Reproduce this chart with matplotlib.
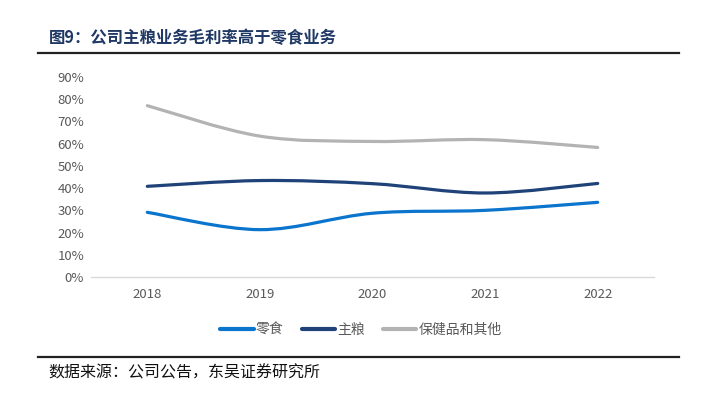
import matplotlib
matplotlib.use('Agg')
import matplotlib.pyplot as plt
from matplotlib.path import Path
from matplotlib.patches import PathPatch
from matplotlib.lines import Line2D
from matplotlib.ticker import FuncFormatter

plt.rcParams['font.family'] = ['Noto Sans CJK SC', 'DejaVu Sans']

# Donnees
years = ['2018', '2019', '2020', '2021', '2022']
snacks = [29.1, 21.3, 28.7, 30.0, 33.6]
staple = [40.8, 43.4, 42.0, 37.8, 42.1]
health = [77.1, 63.4, 61.0, 61.8, 58.3]
series_names = ['零食', '主粮', '保健品和其他']
colors = ['#0b74cc', '#1f4279', '#b3b3b3']


# Courbe lissee facon Excel (bezier) a partir des points
def smooth_path(xs, ys):
    pts = list(zip(xs, ys))
    n = len(pts)
    verts = [pts[0]]
    codes = [Path.MOVETO]
    for i in range(n - 1):
        p0 = pts[i - 1] if i > 0 else pts[i]
        p1 = pts[i]
        p2 = pts[i + 1]
        p3 = pts[i + 2] if i + 2 < n else pts[i + 1]
        c1 = (p1[0] + (p2[0] - p0[0]) / 6, p1[1] + (p2[1] - p0[1]) / 6)
        c2 = (p2[0] - (p3[0] - p1[0]) / 6, p2[1] - (p3[1] - p1[1]) / 6)
        verts += [c1, c2, p2]
        codes += [Path.CURVE4] * 3
    return Path(verts, codes)


fig = plt.figure(figsize=(7.03, 3.99), dpi=100)
ax = fig.add_axes([91 / 703, 1 - 277 / 399, 563 / 703, 200 / 399])

xs = list(range(len(years)))
for data, color in zip([snacks, staple, health], colors):
    patch = PathPatch(smooth_path(xs, data), facecolor='none', edgecolor=color,
                      linewidth=2.3, capstyle='round')
    ax.add_patch(patch)

ax.set_xlim(-0.5, len(years) - 0.5)
ax.set_ylim(0, 90)
ax.set_yticks(range(0, 91, 10))
ax.yaxis.set_major_formatter(FuncFormatter(lambda v, p: '%d%%' % v))
ax.set_xticks(xs)
ax.set_xticklabels(years)
ax.tick_params(axis='both', length=0, colors='#595959', labelsize=9.5)
ax.tick_params(axis='x', pad=8)
ax.tick_params(axis='y', pad=5)
for s in ['top', 'right', 'left']:
    ax.spines[s].set_visible(False)
ax.spines['bottom'].set_color('#d9d9d9')
ax.spines['bottom'].set_linewidth(1)

# Legende
handles = [Line2D([0], [0], color=c, linewidth=3, solid_capstyle='round') for c in colors]
fig.legend(handles, series_names, loc='center', bbox_to_anchor=(361 / 703, 1 - 330 / 399),
           ncol=3, frameon=False, fontsize=10, handlelength=2.4, handletextpad=0.15,
           columnspacing=1.3, labelcolor='#595959')

# Titre et source
fig.text(49 / 703, 1 - 38 / 399, '图9：公司主粮业务毛利率高于零食业务', fontsize=11.8,
         fontweight='bold', color='#1f3864', va='center', ha='left')
fig.add_artist(Line2D([38 / 703, 679 / 703], [1 - 53 / 399, 1 - 53 / 399],
                      color='#222222', linewidth=1.6))
fig.add_artist(Line2D([38 / 703, 679 / 703], [1 - 356.5 / 399, 1 - 356.5 / 399],
                      color='#222222', linewidth=1.6))
fig.text(48 / 703, 1 - 373 / 399, '数据来源：公司公告，东吴证券研究所', fontsize=11.5,
         color='#111111', va='center', ha='left')

fig.savefig('out.png', dpi=100)
